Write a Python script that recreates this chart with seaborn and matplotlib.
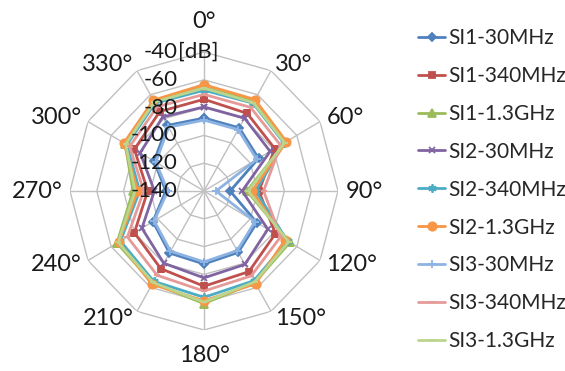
import numpy as np
import matplotlib
matplotlib.use("Agg")
import matplotlib.pyplot as plt
from matplotlib.transforms import offset_copy
import seaborn as sns

# Measurement angles and radial scale
angles_deg = [0, 30, 60, 90, 120, 150, 180, 210, 240, 270, 300, 330]
angle_labels = [f"{a}°" for a in angles_deg]
r_ticks = [-140, -120, -100, -80, -60, -40]
r_tick_labels = ["-140", "-120", "-100", "-80", "-60", "-40"]
r_unit = "[dB]"

series_names = ["SI1-30MHz", "SI1-340MHz", "SI1-1.3GHz",
                "SI2-30MHz", "SI2-340MHz", "SI2-1.3GHz",
                "SI3-30MHz", "SI3-340MHz", "SI3-1.3GHz"]

# Levels in dB at each angle
si1_30mhz = [-87.5, -87.5, -93, -120.5, -94.5, -89, -87.5, -88.5, -96, -111.5, -97, -85.5]
si1_340mhz = [-74, -75.5, -79, -99, -78.5, -73, -71.5, -75.5, -80, -98, -80, -74]
si1_1g3 = [-65.5, -65.5, -70, -108, -66, -64, -59, -63.5, -65, -87, -72, -65.5]
si2_30mhz = [-79.5, -79.5, -83, -111.5, -85, -79, -77.5, -80, -86.5, -103, -85, -78.5]
si2_340mhz = [-67.5, -67, -71, -101.5, -68, -65.5, -63.5, -65, -68, -92, -73.5, -67]
si2_1g3 = [-63.5, -64, -69, -104, -70, -63, -61, -62.5, -66.5, -90.5, -71, -64.5]
si3_30mhz = [-89, -89, -94.5, -131, -96, -90.5, -89, -90, -97, -113, -98.5, -87]
si3_340mhz = [-70.5, -70.5, -74, -95.5, -74, -69.5, -68, -70, -74, -95, -76, -70]
si3_1g3 = [-66, -66.5, -70.5, -107, -67, -64.5, -60, -64, -66, -88.5, -72.5, -66]

series_values = [si1_30mhz, si1_340mhz, si1_1g3,
                 si2_30mhz, si2_340mhz, si2_1g3,
                 si3_30mhz, si3_340mhz, si3_1g3]

colors = ["#4F81BD", "#C0504D", "#9BBB59",
          "#8064A2", "#4BACC6", "#F79646",
          "#8DB3E2", "#E69A98", "#BBD58C"]
markers = ["D", "s", "^", "x", (6, 2, 0), "o", "+", "_", "_"]
marker_sizes = [4, 5, 5.5, 5, 6, 6, 6, 5, 5]

sns.set_theme(style="white")
plt.rcParams["font.family"] = ["Lato", "DejaVu Sans"]

fig = plt.figure(figsize=(5.65, 3.71), dpi=100)
ax = fig.add_axes([0.1239, 0.1105, 0.4743, 0.7493], projection="polar")
ax.set_aspect("auto")
ax.set_theta_zero_location("N")
ax.set_theta_direction(-1)

theta = np.deg2rad(angles_deg)
theta_closed = np.append(theta, theta[0])

grid_color = "#C0C0C0"
# 12-sided grid rings and spokes
for r in r_ticks[1:]:
    ax.plot(theta_closed, [r] * len(theta_closed), color=grid_color, lw=1.0, zorder=1)
for t in theta:
    ax.plot([t, t], [r_ticks[0], r_ticks[-1]], color=grid_color, lw=1.0, zorder=1)

for name, vals, c, m, ms in zip(series_names, series_values, colors, markers, marker_sizes):
    v = np.append(vals, vals[0])
    sns.lineplot(x=theta_closed, y=v, ax=ax, sort=False, estimator=None,
                 color=c, marker=m, markersize=ms, linewidth=2.0,
                 markeredgecolor=c, markeredgewidth=1.3,
                 label=name, legend=False, zorder=3)

ax.set_ylim(r_ticks[0], r_ticks[-1])
ax.set_xticks([])
ax.set_yticks([])
ax.grid(False)
ax.spines["polar"].set_visible(False)
ax.set_xlabel("")
ax.set_ylabel("")
ax.patch.set_alpha(0)

# radial tick labels along the 0° spoke
tick_tf = offset_copy(ax.transData, fig=fig, x=-26, y=0, units="dots")
for r, lab in zip(r_ticks, r_tick_labels):
    ax.text(0, r, lab, transform=tick_tf, ha="right", va="center",
            fontsize=16, color="#1a1a1a", clip_on=False, zorder=5)
ax.text(0, r_ticks[-1], r_unit, transform=tick_tf, ha="left", va="center",
        fontsize=16, color="#1a1a1a", clip_on=False, zorder=5)

# angle labels around the outer ring
for a, t, lab in zip(angles_deg, theta, angle_labels):
    if a == 0:
        r, ha = -18.4, "center"
    elif a == 180:
        r, ha = -21.3, "center"
    elif a < 180:
        r, ha = -34.5, "left"
    else:
        r, ha = -34.5, "right"
    ax.text(t, r, lab, ha=ha, va="center", fontsize=17, color="#1a1a1a",
            clip_on=False)

handles, labels = ax.get_legend_handles_labels()
fig.legend(handles, labels, loc="upper left", bbox_to_anchor=(0.725, 0.947),
           frameon=False, fontsize=15, handlelength=1.3, handletextpad=0.15,
           labelspacing=0.86, borderaxespad=0)

fig.savefig("out.png", dpi=100)
